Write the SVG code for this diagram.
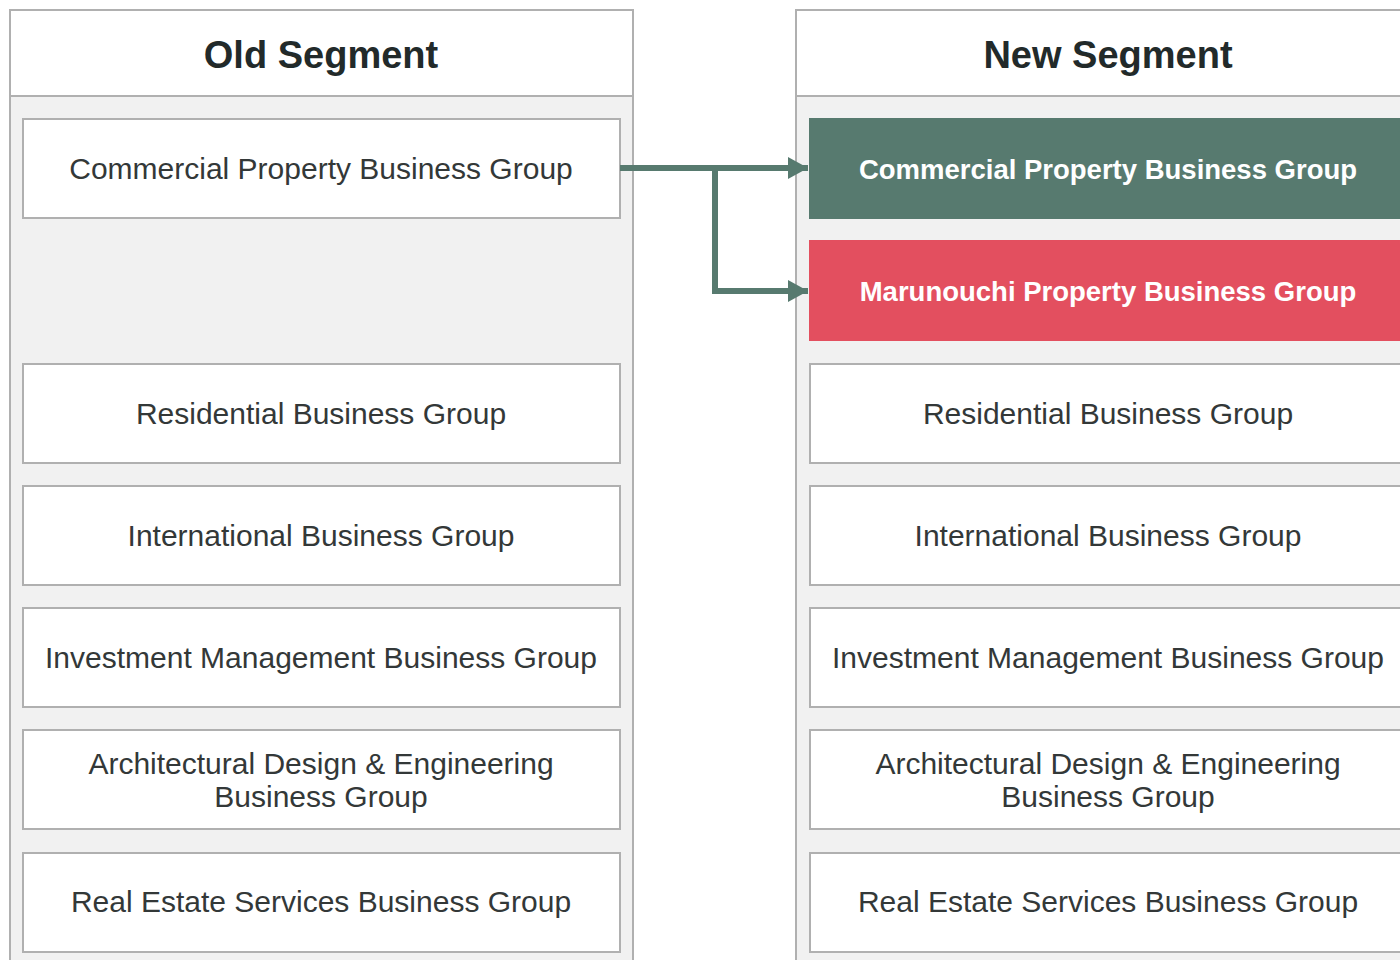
<svg xmlns="http://www.w3.org/2000/svg" width="1400" height="960" viewBox="0 0 1400 960">
<defs>
<style>
.panel{fill:#f1f1f1;stroke:#b0b0b0;stroke-width:2}
.head{fill:#ffffff;stroke:#b0b0b0;stroke-width:2}
.box{fill:#ffffff;stroke:#b0b0b0;stroke-width:2}
.title{font-family:"Liberation Sans",Arial,sans-serif;font-weight:bold;font-size:38px;fill:#222a2a;text-anchor:middle}
.lbl{font-family:"Liberation Sans",Arial,sans-serif;font-size:30px;fill:#333838;text-anchor:middle}
.lblw{font-family:"Liberation Sans",Arial,sans-serif;font-weight:bold;font-size:27.5px;fill:#ffffff;text-anchor:middle}
.conn{fill:none;stroke:#577a6f;stroke-width:6}
</style>
<marker id="arr" markerUnits="userSpaceOnUse" markerWidth="22" markerHeight="22" refX="20" refY="11" orient="auto" viewBox="0 0 22 22">
<path d="M0,0 L20,11 L0,22 Z" fill="#577a6f"/>
</marker>
</defs>

<g id="old-segment">
<rect class="panel" x="10" y="10" width="623" height="970"/>
<rect class="head" x="10" y="10" width="623" height="86"/>
<text class="title" x="321" y="68">Old Segment</text>
</g>
<g id="new-segment">
<rect class="panel" x="796" y="10" width="640" height="970"/>
<rect class="head" x="796" y="10" width="640" height="86"/>
<text class="title" x="1108" y="68">New Segment</text>
</g>

<g id="old-commercial"><rect class="box" x="23" y="119" width="597" height="99"/><text class="lbl" x="321" y="179">Commercial Property Business Group</text></g>
<g id="old-residential"><rect class="box" x="23" y="364" width="597" height="99"/><text class="lbl" x="321" y="424">Residential Business Group</text></g>
<g id="old-international"><rect class="box" x="23" y="486" width="597" height="99"/><text class="lbl" x="321" y="546">International Business Group</text></g>
<g id="old-investment"><rect class="box" x="23" y="608" width="597" height="99"/><text class="lbl" x="321" y="668">Investment Management Business Group</text></g>
<g id="old-architectural"><rect class="box" x="23" y="730" width="597" height="99"/><text class="lbl" x="321" y="774">Architectural Design &amp; Engineering</text><text class="lbl" x="321" y="807">Business Group</text></g>
<g id="old-realestate"><rect class="box" x="23" y="853" width="597" height="99"/><text class="lbl" x="321" y="912">Real Estate Services Business Group</text></g>

<g id="new-commercial"><rect x="809" y="118" width="600" height="101" fill="#577a6f"/><text class="lblw" x="1108" y="179">Commercial Property Business Group</text></g>
<g id="new-marunouchi"><rect x="809" y="240" width="600" height="101" fill="#e34f5f"/><text class="lblw" x="1108" y="301">Marunouchi Property Business Group</text></g>
<g id="new-residential"><rect class="box" x="810" y="364" width="600" height="99"/><text class="lbl" x="1108" y="424">Residential Business Group</text></g>
<g id="new-international"><rect class="box" x="810" y="486" width="600" height="99"/><text class="lbl" x="1108" y="546">International Business Group</text></g>
<g id="new-investment"><rect class="box" x="810" y="608" width="600" height="99"/><text class="lbl" x="1108" y="668">Investment Management Business Group</text></g>
<g id="new-architectural"><rect class="box" x="810" y="730" width="600" height="99"/><text class="lbl" x="1108" y="774">Architectural Design &amp; Engineering</text><text class="lbl" x="1108" y="807">Business Group</text></g>
<g id="new-realestate"><rect class="box" x="810" y="853" width="600" height="99"/><text class="lbl" x="1108" y="912">Real Estate Services Business Group</text></g>

<g id="connectors">
<path class="conn" d="M620,168 L808,168" marker-end="url(#arr)"/>
<path class="conn" d="M715,168 L715,291 L808,291" marker-end="url(#arr)"/>
</g>
</svg>
